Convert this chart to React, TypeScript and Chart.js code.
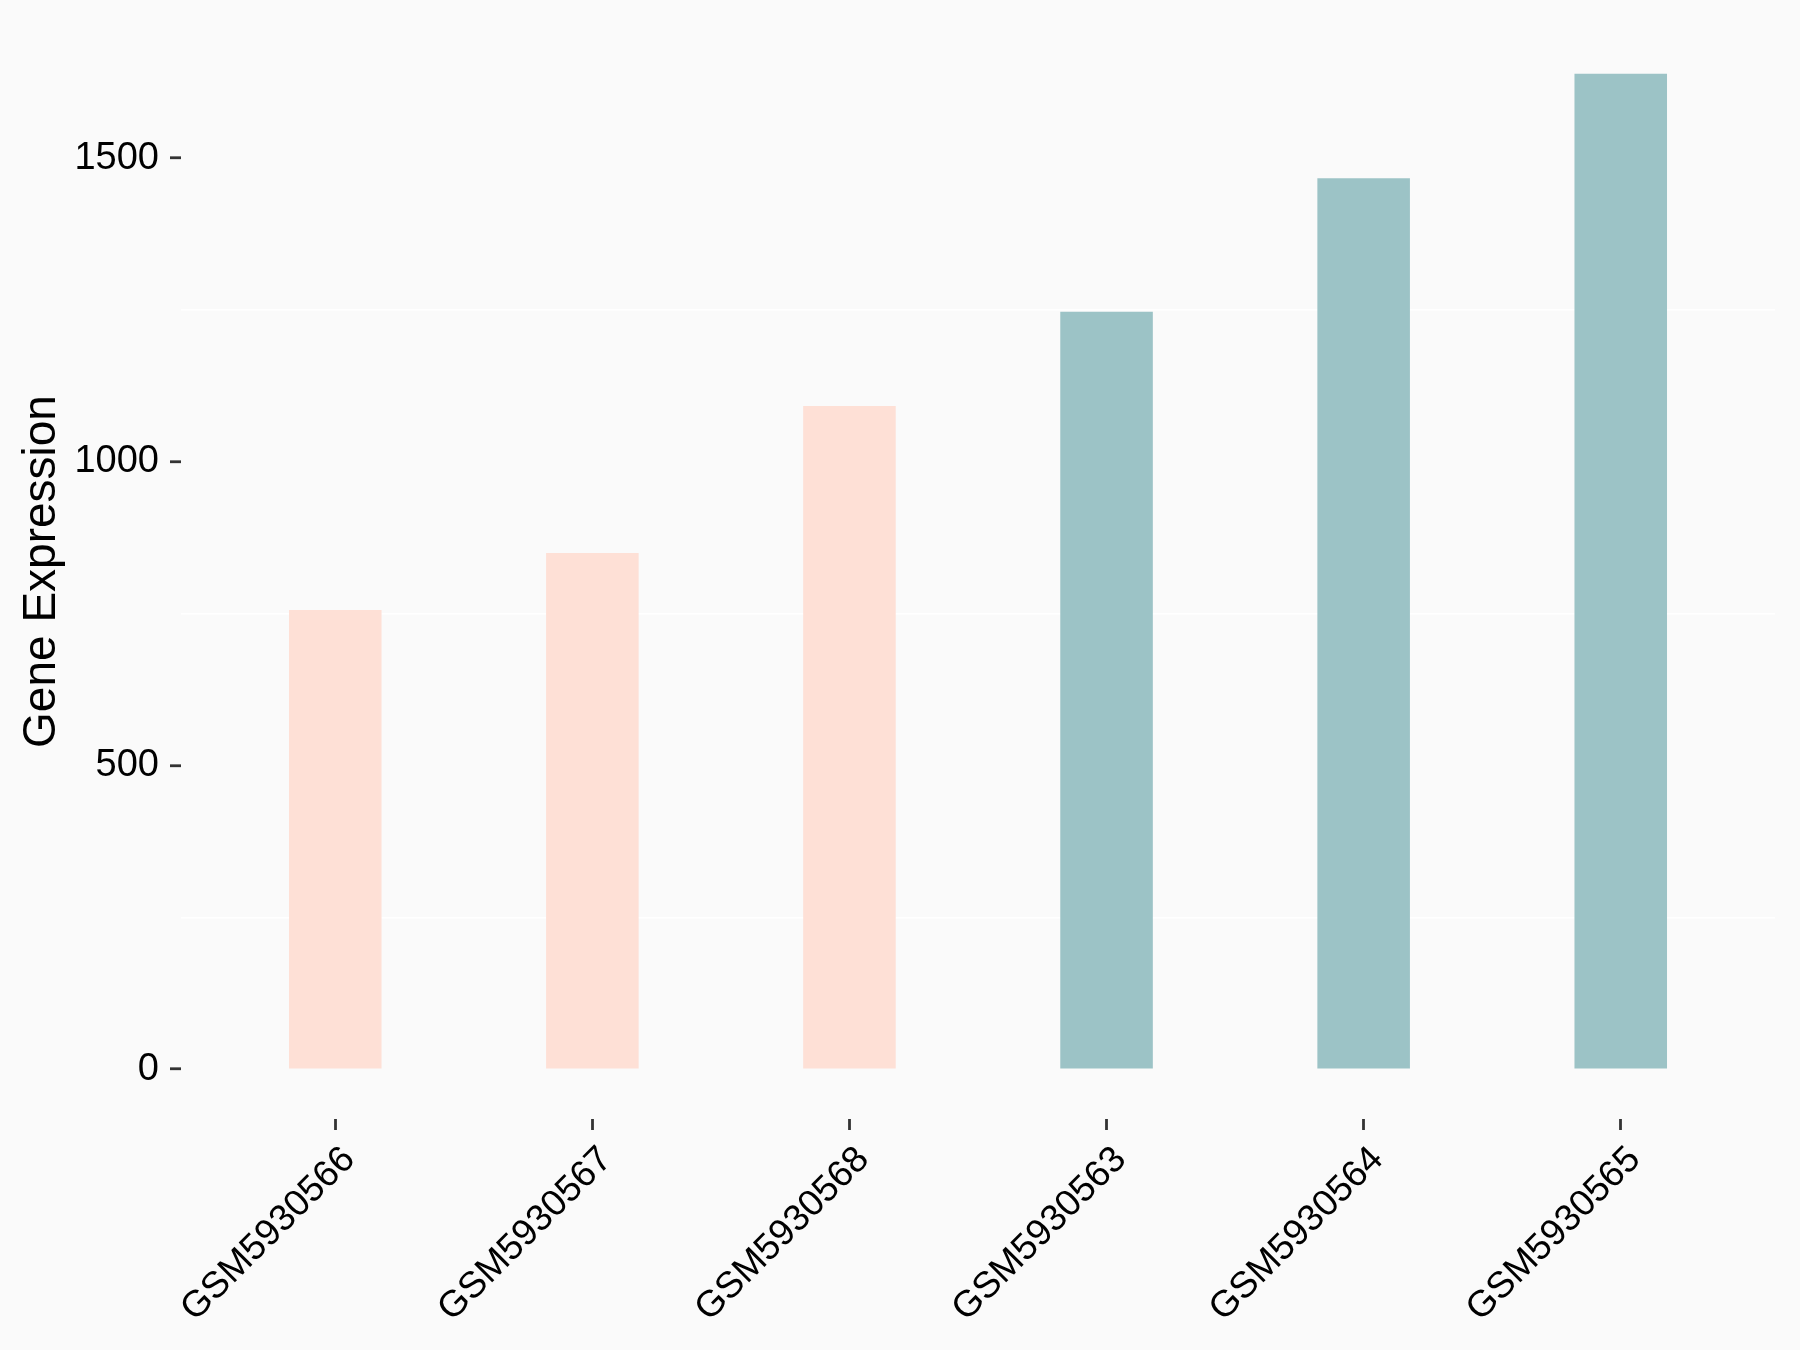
import React, { useEffect, useRef } from 'react';
import { Chart, registerables } from 'chart.js';

Chart.register(...registerables);

const samples = ['GSM5930566', 'GSM5930567', 'GSM5930568', 'GSM5930563', 'GSM5930564', 'GSM5930565'];
const expression = [756, 850, 1092, 1247, 1467, 1639];
const groups = ['Control', 'Control', 'Control', 'Treated', 'Treated', 'Treated'];
const groupColors: Record<string, string> = { Control: '#FEE0D6', Treated: '#9CC3C6' };
const yTickValues = [0, 500, 1000, 1500];
const yGridValues = [250, 750, 1250];
const yTitle = 'Gene Expression';

const FONT = '"Liberation Sans", Arial, Helvetica, sans-serif';

export default function App() {
  const canvasRef = useRef<HTMLCanvasElement | null>(null);

  useEffect(() => {
    const canvas = canvasRef.current;
    if (!canvas) return;
    const maxVal = Math.max(...expression);
    const chart = new Chart(canvas, {
      type: 'bar',
      data: {
        datasets: [
          {
            data: expression.map((v, i) => ({ x: i, y: v })),
            backgroundColor: groups.map((g) => groupColors[g]),
            borderWidth: 0,
            barPercentage: 0.36,
            categoryPercentage: 1,
          },
        ],
      },
      options: {
        animation: false,
        responsive: false,
        devicePixelRatio: 1,
        layout: { padding: { top: 24, right: 25, left: 0, bottom: 0 } },
        plugins: { legend: { display: false }, tooltip: { enabled: false } },
        scales: {
          x: {
            type: 'linear',
            offset: false,
            min: -0.6,
            max: samples.length - 0.4,
            afterBuildTicks: (scale: any) => {
              scale.ticks = samples.map((_, i) => ({ value: i }));
            },
            afterFit: (scale: any) => {
              scale.height = 231;
              scale.paddingLeft = 0;
              scale.paddingRight = 0;
            },
            border: { display: false },
            grid: {
              offset: false,
              drawOnChartArea: false,
              drawTicks: true,
              tickLength: 11,
              tickColor: '#333333',
              tickWidth: 2.8,
            },
            ticks: {
              autoSkip: false,
              minRotation: 45,
              maxRotation: 45,
              padding: 8,
              labelOffset: 14,
              color: '#000000',
              font: { family: FONT, size: 37 },
              callback: (v: any) => samples[v as number] ?? '',
            },
          },
          y: {
            type: 'linear',
            min: -0.05 * maxVal,
            max: 1.05 * maxVal,
            afterBuildTicks: (scale: any) => {
              scale.ticks = [...yTickValues, ...yGridValues].sort((a, b) => a - b).map((v) => ({ value: v }));
            },
            afterFit: (scale: any) => {
              scale.width = 181;
              scale.paddingTop = 0;
              scale.paddingBottom = 0;
            },
            border: { display: false },
            grid: {
              drawTicks: true,
              tickLength: 11,
              lineWidth: 1.5,
              tickWidth: 2.8,
              color: (ctx: any) => (yGridValues.includes(ctx.tick?.value) ? '#FFFFFF' : 'rgba(0,0,0,0)'),
              tickColor: (ctx: any) => (yTickValues.includes(ctx.tick?.value) ? '#333333' : 'rgba(0,0,0,0)'),
            },
            ticks: {
              padding: 11,
              color: '#000000',
              font: { family: FONT, size: 38 },
              callback: (v: any) => (yTickValues.includes(v as number) ? String(v) : ''),
            },
            title: {
              display: true,
              text: yTitle,
              color: '#000000',
              font: { family: FONT, size: 46 },
              padding: { top: 15, bottom: 0 },
            },
          },
        },
      },
    });
    return () => chart.destroy();
  }, []);

  return (
    <div style={{ position: 'absolute', left: 0, top: 0, width: 1800, height: 1350, background: '#FAFAFA' }}>
      <canvas ref={canvasRef} width={1800} height={1350} style={{ display: 'block' }} />
    </div>
  );
}
